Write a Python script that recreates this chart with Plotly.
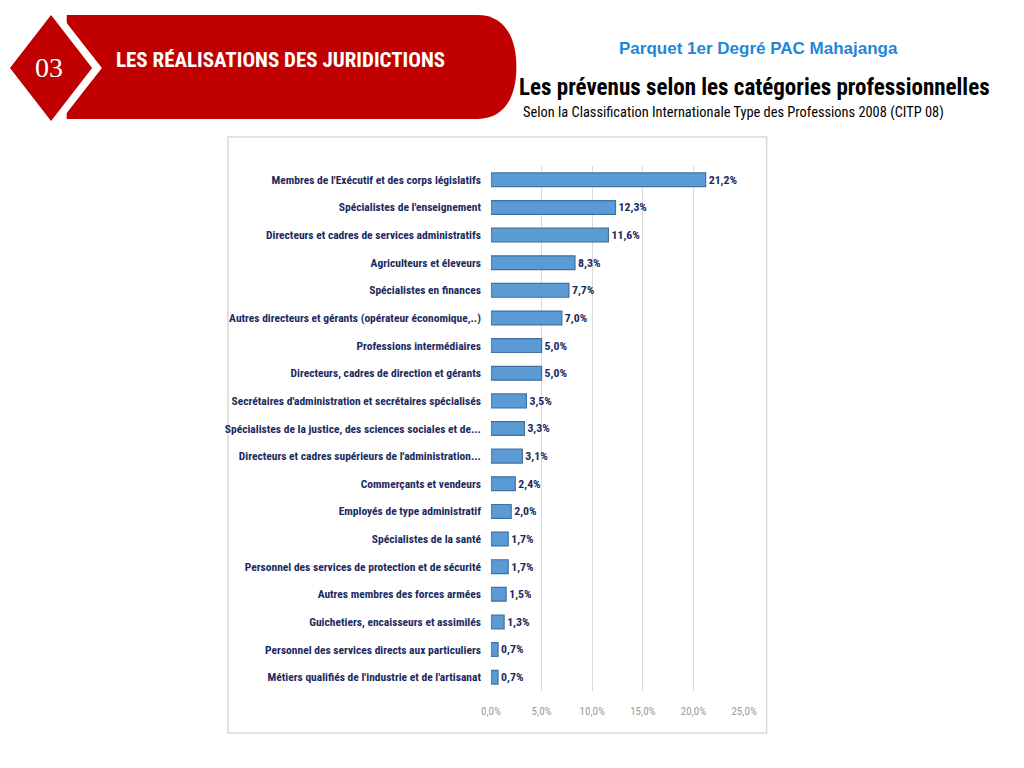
import plotly.graph_objects as go

W, H = 1024, 768

categories = [
    "Membres de l'Exécutif et des corps législatifs",
    "Spécialistes de l'enseignement",
    "Directeurs et cadres de services administratifs",
    "Agriculteurs et éleveurs",
    "Spécialistes en finances",
    "Autres directeurs et gérants (opérateur économique,..)",
    "Professions intermédiaires",
    "Directeurs, cadres de direction et gérants",
    "Secrétaires d'administration et secrétaires spécialisés",
    "Spécialistes de la justice, des sciences sociales et de...",
    "Directeurs et cadres supérieurs de l'administration...",
    "Commerçants et vendeurs",
    "Employés de type administratif",
    "Spécialistes de la santé",
    "Personnel des services de protection et de sécurité",
    "Autres membres des forces armées",
    "Guichetiers, encaisseurs et assimilés",
    "Personnel des services directs aux particuliers",
    "Métiers qualifiés de l'industrie et de l'artisanat",
]
percent = [21.2, 12.3, 11.6, 8.3, 7.7, 7.0, 5.0, 5.0, 3.5, 3.3, 3.1,
           2.4, 2.0, 1.7, 1.7, 1.5, 1.3, 0.7, 0.7]
tick_vals = [0, 5, 10, 15, 20, 25]

labels = [f"{v:.1f}".replace(".", ",") + "%" for v in percent]
tick_text = [f"{v:.1f}".replace(".", ",") + "%" for v in tick_vals]

NARROW = "Liberation Sans Narrow, Arial Narrow, Roboto Condensed, sans-serif"
NAVY = "#1B2A5E"
RED = "#C00000"


def px(x, y):
    return x / W, 1 - y / H


def fx(x):
    return px(x, 0)[0]


def fy(y):
    return px(0, y)[1]


def path(points):
    # points: list of (cmd, [(x, y), ...]) in screen pixels
    out = []
    for cmd, pts in points:
        coords = " ".join("%.5f,%.5f" % px(x, y) for x, y in pts)
        out.append(cmd + " " + coords if pts else cmd)
    return " ".join(out)


fig = go.Figure(go.Bar(
    x=percent,
    y=categories,
    orientation="h",
    marker=dict(color="#5B9BD5", line=dict(color="#41719C", width=1.2)),
    text=labels,
    textposition="outside",
    cliponaxis=False,
    textfont=dict(family=NARROW, size=12, color=NAVY, weight="bold"),
))

shapes = [
    # chart frame
    dict(type="rect", xref="paper", yref="paper",
         x0=fx(223), x1=fx(774), y0=fy(733), y1=fy(137),
         line=dict(color="#D9D9D9", width=1.5), layer="below"),
    # red header band
    dict(type="path", xref="paper", yref="paper", fillcolor=RED, line_width=0,
         path=path([("M", [(58, 15)]), ("L", [(478, 15)]),
                    ("C", [(505, 15), (518, 36), (518, 67)]),
                    ("C", [(518, 98), (505, 119), (478, 119)]),
                    ("L", [(58, 119)]), ("Z", [])])),
    # white outline of the diamond
    dict(type="path", xref="paper", yref="paper", fillcolor="white", line_width=0,
         path=path([("M", [(42, 3)]), ("L", [(94, 68)]), ("L", [(42, 133)]),
                    ("L", [(-10, 68)]), ("Z", [])])),
    # red diamond
    dict(type="path", xref="paper", yref="paper", fillcolor=RED, line_width=0,
         path=path([("M", [(42, 15)]), ("L", [(84, 68)]), ("L", [(42, 121)]),
                    ("L", [(0, 68)]), ("Z", [])])),
]

annotations = [
    dict(text="03", x=fx(40), y=fy(68), xref="paper", yref="paper",
         xanchor="center", yanchor="middle", showarrow=False,
         font=dict(family="Liberation Serif, serif", size=28, color="white")),
    dict(text="LES RÉALISATIONS DES JURIDICTIONS", x=fx(106), y=fy(60),
         xref="paper", yref="paper", xanchor="left", yanchor="middle", showarrow=False,
         font=dict(family=NARROW, size=21, color="white", weight="bold")),
    dict(text="Parquet 1er Degré PAC Mahajanga", x=fx(766), y=fy(48),
         xref="paper", yref="paper", xanchor="center", yanchor="middle", showarrow=False,
         font=dict(family="Liberation Sans, Arial, sans-serif", size=17, color="#1E88D8", weight="bold")),
    dict(text="Les prévenus selon les catégories professionnelles", x=fx(1005), y=fy(87),
         xref="paper", yref="paper", xanchor="right", yanchor="middle", showarrow=False,
         font=dict(family=NARROW, size=23, color="black", weight="bold")),
    dict(text="Selon la Classification Internationale Type des Professions 2008 (CITP 08)",
         x=fx(523), y=fy(112), xref="paper", yref="paper", xanchor="left", yanchor="middle",
         showarrow=False, font=dict(family=NARROW, size=14.4, color="black")),
]

fig.update_layout(
    width=W, height=H,
    margin=dict(l=0, r=0, t=0, b=0),
    paper_bgcolor="white", plot_bgcolor="white",
    showlegend=False,
    bargap=0.5,
    shapes=shapes,
    annotations=annotations,
    xaxis=dict(
        domain=[fx(492), fx(751)], range=[0, 25],
        tickvals=tick_vals, ticktext=tick_text,
        showgrid=True, gridcolor="#D9D9D9", gridwidth=1,
        zeroline=False, showline=False,
        tickfont=dict(family=NARROW, size=11, color="#9A9A9A"),
        ticklabelstandoff=12,
    ),
    yaxis=dict(
        domain=[fy(691), fy(166)],
        autorange="reversed",
        showgrid=False, showline=False, zeroline=False,
        tickfont=dict(family=NARROW, size=11.5, color=NAVY, weight="bold"),
        ticklabelstandoff=9,
    ),
)

# drop the default page margin so the figure sits at the window origin
fig.write_html("out.html", config={"displayModeBar": False},
               post_script="document.body.style.margin='0';")
